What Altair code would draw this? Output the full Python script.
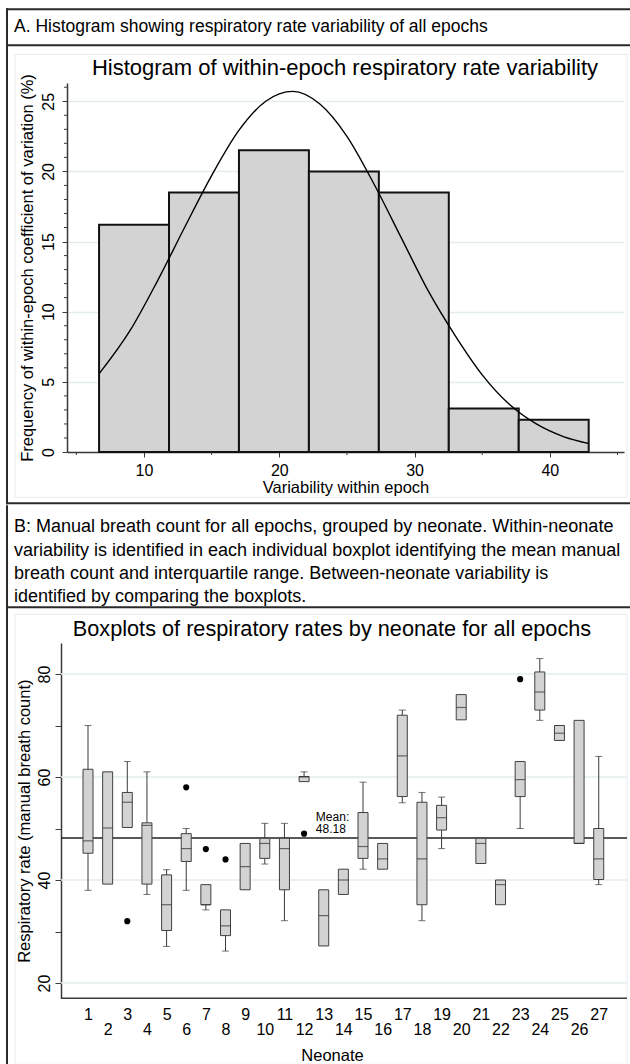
import altair as alt
import pandas as pd

FONT = "Liberation Sans, Arial, sans-serif"
BAR = "#d3d3d3"
AXC = "#3a3a3a"
GRID = "#e3ecef"
FRAME = "#2a2a2a"

# ---------------- Panel A: histogram ----------------
bin_start = [6.68, 11.85, 17.02, 22.19, 27.36, 32.53, 37.70]
bin_end = [11.85, 17.02, 22.19, 27.36, 32.53, 37.70, 42.87]
bin_pct = [16.2, 18.5, 21.5, 20.0, 18.5, 3.1, 2.3]

curve_x = [6.7, 9, 11, 13, 15, 17, 19, 21, 23, 25, 27, 29, 31, 33, 35, 37, 39, 41, 42.9]
curve_y = [5.6, 8.7, 12.2, 16.0, 19.7, 22.9, 25.0, 25.7, 24.8, 22.5, 19.1, 15.3, 11.5, 8.3, 5.5, 3.4, 2.0, 1.1, 0.6]

hist_x_major = [10, 20, 30, 40]
hist_x_minor = [5, 15, 25, 35, 45]
hist_y_major = [0, 5, 10, 15, 20, 25]
hist_y_minor = [1, 2, 3, 4, 6, 7, 8, 9, 11, 12, 13, 14, 16, 17, 18, 19, 21, 22, 23, 24, 26]

header_a = "A. Histogram showing respiratory rate variability of all epochs"
title_a = "Histogram of within-epoch respiratory rate variability"

# ---------------- Panel B: boxplots ----------------
neonate = list(range(1, 28))
lw = [38, 39.2, 50.2, 37.2, 27.1, 38, 34.2, 26.2, 38.1, 43.1, 32.1, 59.1, 27.2, 37.2, 42.1, 42.1, 55, 32.1, 46.1, 71.1, 43.2, 35.2, 50, 71, 67.1, 47.1, 39.1]
q1 = [45.2, 39.2, 50.2, 39.2, 30.2, 43.6, 35.2, 29.2, 38.1, 44.2, 38.1, 59.1, 27.2, 37.2, 44.2, 42.1, 56.2, 35.2, 49.7, 71.1, 43.2, 35.2, 56.2, 73, 67.1, 47.1, 40.1]
med = [47.6, 50.1, 55.1, 50.6, 35.2, 46.1, 35.2, 31.1, 42.6, 47.1, 46.1, 60, 33.1, 40, 46.5, 44.1, 64.1, 44.1, 52.1, 73.5, 47.1, 39.1, 59.5, 76.5, 68.5, 47.1, 44.1]
q3 = [61.5, 61, 57, 51.1, 41, 49, 39.1, 34.2, 47.1, 48.1, 48.1, 60.1, 38.1, 42.1, 53.1, 47.1, 72, 55.1, 54.5, 76, 48.1, 40, 63, 80.4, 70, 71, 50]
uw = [70, 61, 63, 61, 42, 50, 39.1, 34.2, 47.1, 51, 51, 61, 38.1, 42.1, 59, 47.1, 73, 57, 56.1, 76, 48.1, 40, 63, 83, 70, 71, 64]

out_neonate = [3, 6, 7, 8, 12, 23]
out_value = [32, 58, 46, 44, 49, 79]

mean_value = [48.18]
mean_label_x = [12.6]
mean_label_y = [52.2]
mean_label_text = [["Mean:", "48.18"]]

box_y_ticks = [20, 30, 40, 50, 60, 70, 80]
box_grid = [20, 40, 60, 80]

header_b = [
    "B: Manual breath count for all epochs, grouped by neonate. Within-neonate",
    "variability is identified in each individual boxplot identifying the mean manual",
    "breath count and interquartile range. Between-neonate variability is",
    "identified by comparing the boxplots.",
]
title_b = "Boxplots of respiratory rates by neonate for all epochs"

one = pd.DataFrame({"k": [0]})


def rect(x1, x2, y1, y2, **kw):
    return alt.Chart(one).mark_rect(**kw).encode(
        x=alt.value(x1), x2=alt.value(x2), y=alt.value(y1), y2=alt.value(y2)
    )


def text(x, y, t, **kw):
    return alt.Chart(one).mark_text(text=t, font=FONT, color="black", **kw).encode(
        x=alt.value(x), y=alt.value(y)
    )


# ---------- histogram chart ----------
W1, H1 = 557, 369
hx_scale = alt.Scale(domain=[4.31, 45.48], nice=False, zero=False)
hy_scale = alt.Scale(domain=[0, 26.3], nice=False, zero=False)
hx_axis = alt.Axis(values=hist_x_major, title="Variability within epoch", grid=False,
                   tickSize=5, labelPadding=5, titlePadding=1, labelFlush=False)
hy_axis = alt.Axis(values=hist_y_major,
                   title="Frequency of within-epoch coefficient of variation (%)",
                   grid=True, gridColor=GRID, gridWidth=1.5, tickSize=5, labelAngle=270,
                   labelAlign="center", labelBaseline="alphabetic", labelPadding=9,
                   titlePadding=5)


def HX(f):
    return alt.X(f, type="quantitative", scale=hx_scale, axis=hx_axis)


def HY(f):
    return alt.Y(f, type="quantitative", scale=hy_scale, axis=hy_axis)


hist_df = pd.DataFrame({"start": bin_start, "end": bin_end, "pct": bin_pct})
curve_df = pd.DataFrame({"x": curve_x, "y": curve_y})

bars = alt.Chart(hist_df).mark_rect(fill=BAR, stroke="#111111", strokeWidth=2).encode(
    x=HX("start"), x2="end", y=HY("pct"), y2=alt.datum(0)
)
curve = alt.Chart(curve_df).mark_line(color="black", strokeWidth=1.4, interpolate="monotone").encode(
    x=HX("x"), y=HY("y")
)
hx_minor = alt.Chart(pd.DataFrame({"v": hist_x_minor})).mark_rule(color=AXC, strokeWidth=1).encode(
    x=HX("v"), y=alt.value(H1), y2=alt.value(H1 + 3)
)
hy_minor = alt.Chart(pd.DataFrame({"v": hist_y_minor})).mark_rule(color=AXC, strokeWidth=1).encode(
    y=HY("v"), x=alt.value(0), x2=alt.value(-3)
)

ox1, oy1 = 67, 82.7
hist = alt.layer(
    rect(15 - ox1, 627 - ox1, 54 - oy1, 497 - oy1, fillOpacity=0, stroke=GRID, strokeWidth=1),
    bars, curve, hx_minor, hy_minor,
    rect(6 - ox1, 630 - ox1, 8 - oy1, 10 - oy1, fill=FRAME),
    rect(6 - ox1, 630 - ox1, 44 - oy1, 46 - oy1, fill=FRAME),
    rect(6 - ox1, 630 - ox1, 502 - oy1, 504 - oy1, fill=FRAME),
    rect(6 - ox1, 8 - ox1, 8 - oy1, 504 - oy1, fill=FRAME),
    text(14 - ox1, 27 - oy1, header_a, align="left", baseline="middle", fontSize=17.5),
    text(345 - ox1, 67.7 - oy1, title_a, align="center", baseline="middle", fontSize=22),
).properties(width=W1, height=H1)

# ---------- boxplot chart ----------
# plot origin shares x=67 with panel A (concat alignment); the y axis is offset 6 px left.
ox2, oy2 = 67, 641.7
SH = 6
W2, H2 = 560, 355.3
bx_scale = alt.Scale(domain=[0.185, 28.185], nice=False, zero=False)
by_scale = alt.Scale(domain=[17.03, 86.02], nice=False, zero=False)
bx_axis = alt.Axis(values=neonate, title="Neonate", grid=False, ticks=False, domain=False,
                   labelExpr="datum.value % 2 == 1 ? datum.label : ['', datum.label]",
                   labelBaseline="top", labelLineHeight=15, labelPadding=8,
                   labelOverlap=False, labelFlush=False, titlePadding=10, titleX=(332 - ox2))
by_axis = alt.Axis(values=box_y_ticks, title="Respiratory rate (manual breath count)",
                   labelExpr="datum.value % 20 == 0 ? datum.label : ''",
                   grid=False, offset=SH,
                   tickSize=6, labelAngle=270, labelAlign="center", labelBaseline="alphabetic",
                   labelPadding=6, titlePadding=4)


def BX(f):
    return alt.X(f, type="quantitative", scale=bx_scale, axis=bx_axis)


def BY(f):
    return alt.Y(f, type="quantitative", scale=by_scale, axis=by_axis)


box_df = pd.DataFrame({"neonate": neonate, "lw": lw, "q1": q1, "med": med, "q3": q3, "uw": uw})
out_df = pd.DataFrame({"neonate": out_neonate, "value": out_value})
mean_df = pd.DataFrame({"mean": mean_value})
mlab_df = pd.DataFrame({"x": mean_label_x, "y": mean_label_y, "t": mean_label_text})
grid_df = pd.DataFrame({"v": box_grid})

base = alt.Chart(box_df)
gridl = alt.Chart(grid_df).mark_rule(color=GRID, strokeWidth=1.5).encode(
    y=BY("v"), x=alt.value(-SH), x2=alt.value(W2))
xdomain = alt.Chart(one).mark_rule(color=AXC, strokeWidth=1.5).encode(
    x=alt.value(-SH), x2=alt.value(W2), y=alt.value(H2))
whisk = base.mark_rule(color=AXC, strokeWidth=1).encode(x=BX("neonate"), y=BY("lw"), y2="uw")
cap_lo = base.transform_filter("datum.lw < datum.q1").mark_tick(
    orient="horizontal", size=7, thickness=1, color=AXC).encode(x=BX("neonate"), y=BY("lw"))
cap_hi = base.transform_filter("datum.uw > datum.q3").mark_tick(
    orient="horizontal", size=7, thickness=1, color=AXC).encode(x=BX("neonate"), y=BY("uw"))
boxes = base.mark_bar(size=10, fill=BAR, stroke="#404040", strokeWidth=1).encode(
    x=BX("neonate"), y=BY("q1"), y2="q3")
medians = base.mark_tick(orient="horizontal", size=10, thickness=1.2, color="#333333").encode(
    x=BX("neonate"), y=BY("med"))
outl = alt.Chart(out_df).mark_circle(size=38, color="black", opacity=1).encode(
    x=BX("neonate"), y=BY("value"))
mline = alt.Chart(mean_df).mark_rule(color="#222222", strokeWidth=1.5).encode(
    y=BY("mean"), x=alt.value(-SH), x2=alt.value(W2))
mtext = alt.Chart(mlab_df).mark_text(align="left", baseline="middle", fontSize=12, lineHeight=12,
                                     font=FONT, color="black").encode(
    x=BX("x"), y=BY("y"), text="t")

box = alt.layer(
    rect(15 - ox2, 627 - ox2, 613 - oy2, 1063 - oy2, fillOpacity=0, stroke=GRID, strokeWidth=1),
    gridl, mline, whisk, boxes, medians, cap_lo, cap_hi, outl, mtext, xdomain,
    rect(6 - ox2, 630 - ox2, 605 - oy2, 607 - oy2, fill=FRAME),
    rect(6 - ox2, 8 - ox2, 504 - oy2, 1063 - oy2, fill=FRAME),
    text(14 - ox2, 526 - oy2, header_b, align="left", baseline="middle", fontSize=18, lineHeight=23.3),
    text(332 - ox2, 628 - oy2, title_b, align="center", baseline="middle", fontSize=21.7),
).properties(width=W2, height=H2)

chart = alt.vconcat(hist, box, spacing=0).properties(
    padding={"left": 6, "top": 8, "right": 0, "bottom": 0}
).configure_view(stroke=None).configure_axis(
    labelFont=FONT, titleFont=FONT, labelFontSize=16, titleFontSize=16.5,
    titleFontWeight="normal", labelColor="black", titleColor="black",
    domainColor=AXC, tickColor=AXC, domainWidth=1.5, tickWidth=1,
)

chart.save("out.html", embed_options={"renderer": "svg", "actions": False})
